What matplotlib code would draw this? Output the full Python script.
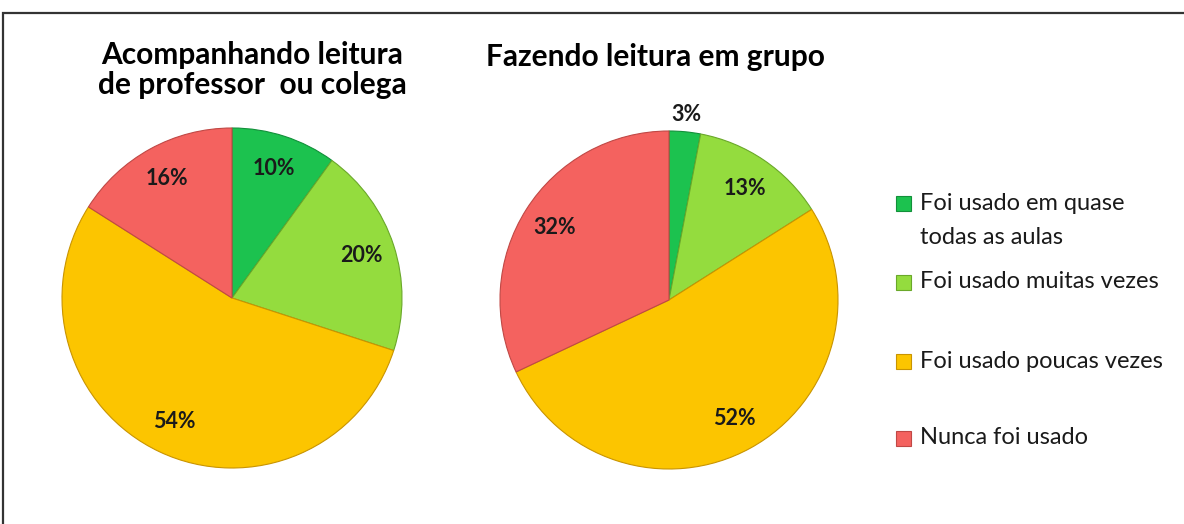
import numpy as np
import matplotlib.pyplot as plt
from matplotlib.patches import Rectangle

plt.rcParams['font.family'] = ['Lato', 'DejaVu Sans']

categories = ["Foi usado em quase\ntodas as aulas", "Foi usado muitas vezes",
              "Foi usado poucas vezes", "Nunca foi usado"]
acompanhando = [10, 20, 54, 16]
grupo = [3, 13, 52, 32]
titles = ["Acompanhando leitura\nde professor  ou colega", "Fazendo leitura em grupo"]

colors = ["#1cc24f", "#94dc3e", "#fcc500", "#f4625f"]
edges = ["#12903a", "#6aa82a", "#c99400", "#c04845"]

W, H = 1184, 524
fig = plt.figure(figsize=(W / 100, H / 100), dpi=100)

# frame around the chart area (runs off the right/bottom edge like the screenshot)
fig.patches.append(Rectangle((3 / W, -0.1), 1.2, (H - 13) / H + 0.1,
                             transform=fig.transFigure, fill=False,
                             edgecolor="#333333", lw=1.6))


def draw_pie(cx, cy, r, values, title, tx, ty):
    ax = fig.add_axes([(cx - r) / W, (H - cy - r) / H, 2 * r / W, 2 * r / H])
    wedges, _ = ax.pie(values, colors=colors, startangle=90, counterclock=False,
                       wedgeprops=dict(linewidth=0.8))
    for w, e in zip(wedges, edges):
        w.set_edgecolor(e)
    total = sum(values)
    start = 0
    for v in values:
        mid = (start + v / 2) / total * 2 * np.pi
        d = 1.1 if v < 5 else 0.8
        ax.text(d * np.sin(mid), d * np.cos(mid), f"{v}%", ha="center", va="center",
                fontsize=15.5, fontweight="bold", color="#1a1a1a")
        start += v
    ax.set_xlim(-1, 1)
    ax.set_ylim(-1, 1)
    ax.set_aspect("equal")
    fig.text(tx / W, 1 - ty / H, title, ha="center", va="center", fontsize=21.5,
             fontweight="bold", linespacing=1.1)


draw_pie(232, 298, 170, acompanhando, titles[0], 252, 70)
draw_pie(669, 300, 169, grupo, titles[1], 655, 57)

legend_y = [203, 282, 361, 438]
for cat, c, e, y in zip(categories, colors, edges, legend_y):
    fig.patches.append(Rectangle((896 / W, 1 - (y + 8) / H), 15 / W, 15 / H,
                                 transform=fig.transFigure, facecolor=c,
                                 edgecolor=e, lw=0.8))
    for i, line in enumerate(cat.split("\n")):
        fig.text(920 / W, 1 - (y + 34 * i) / H, line, ha="left", va="center",
                 fontsize=17, color="#1a1a1a")

fig.savefig("out.png", dpi=100)
